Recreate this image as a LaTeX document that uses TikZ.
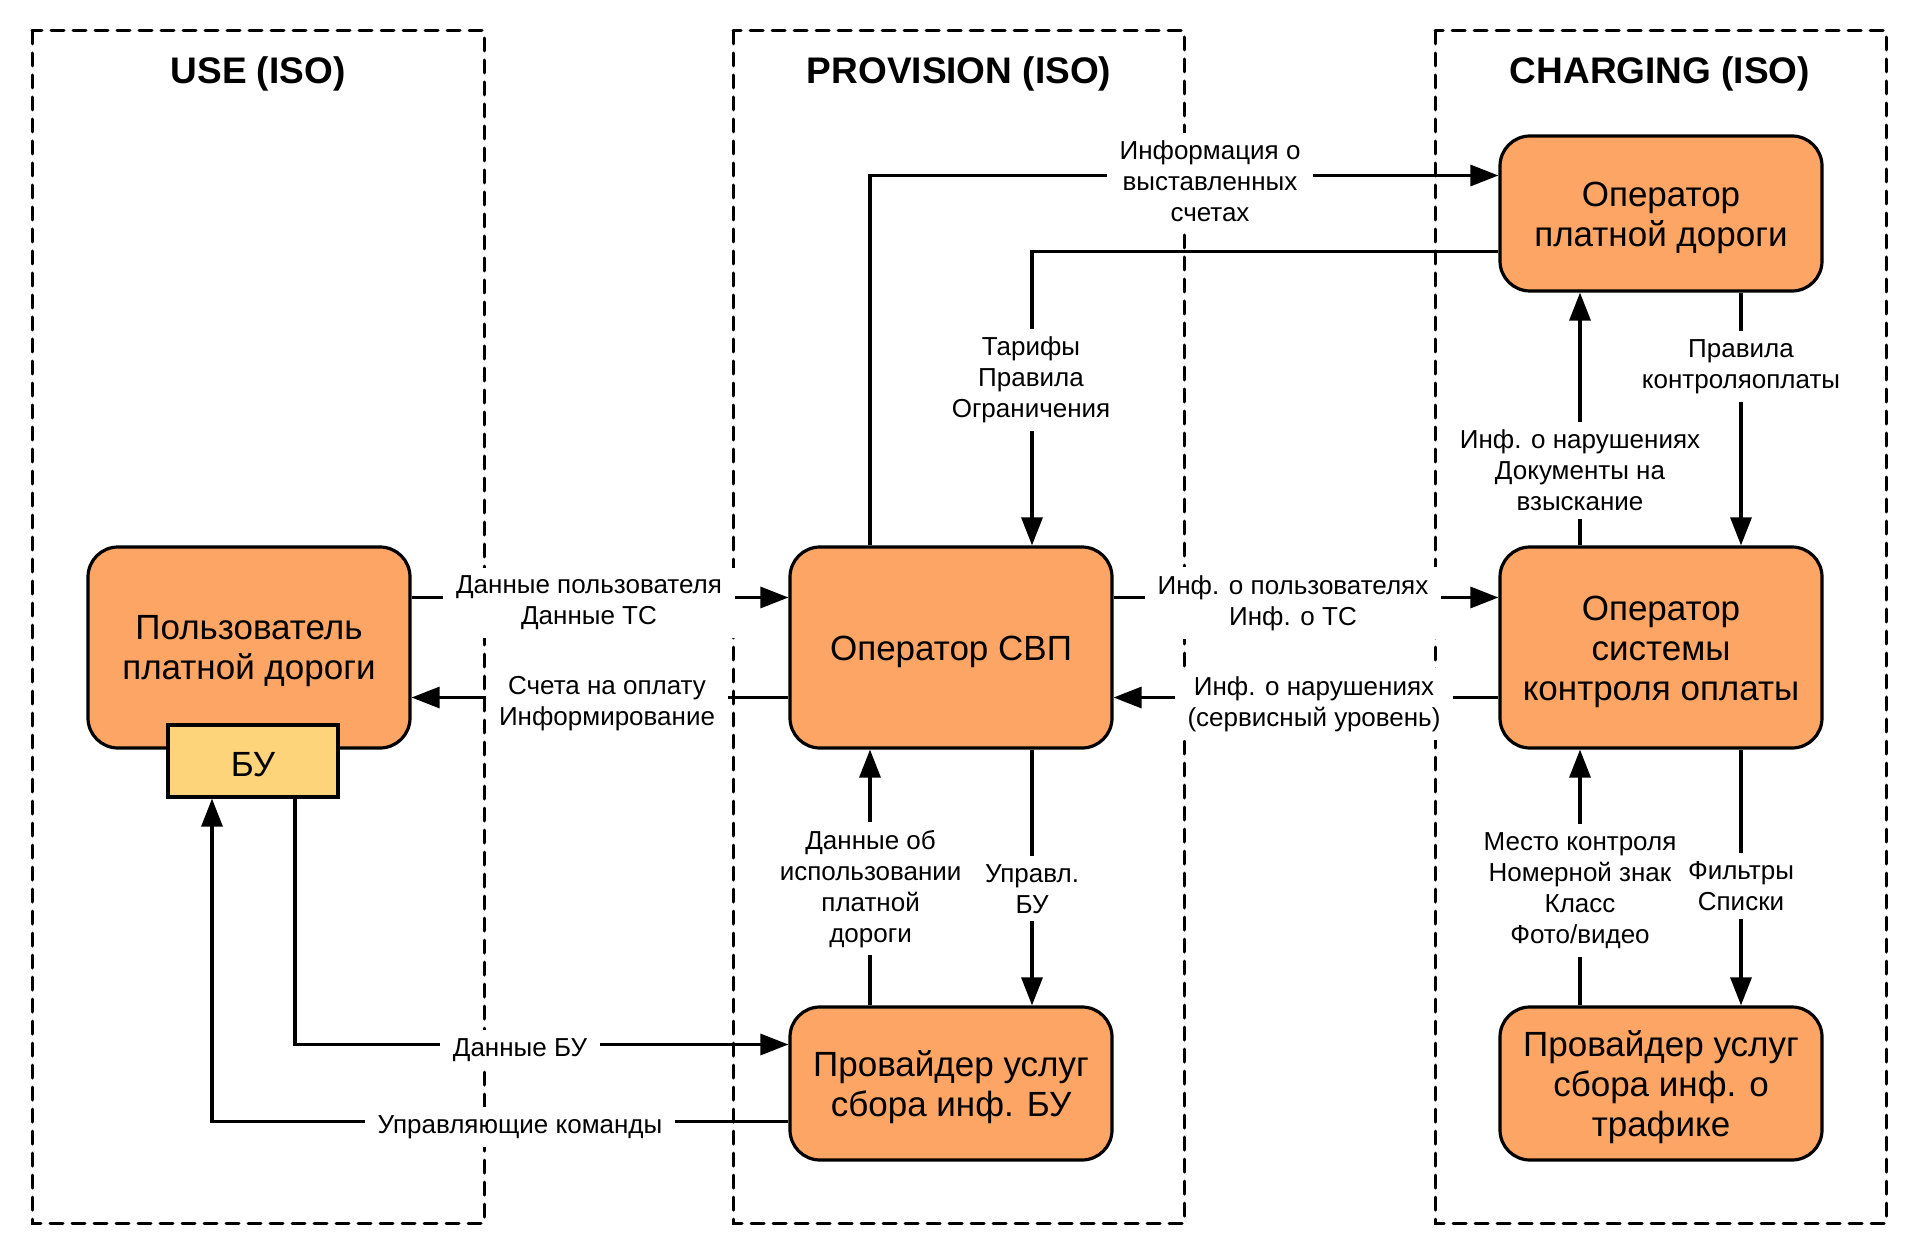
\documentclass[tikz,border=0pt]{standalone}
\usepackage{fontspec}
\setmainfont{Liberation Sans}
\usetikzlibrary{arrows.meta}
\definecolor{boxorange}{RGB}{252,165,100}
\definecolor{buyellow}{RGB}{254,212,122}
\newcommand\ndfont{\fontsize{35}{40}\selectfont}
\newcommand\lbfont{\fontsize{26}{31}\selectfont}
\newcommand\ttlfont{\fontsize{37}{44}\selectfont\bfseries}
\begin{document}
\begin{tikzpicture}[x=1pt,y=-1pt,
  zone/.style={draw=black, line width=3pt, line cap=round, dash pattern=on 13pt off 9pt},
  title/.style={font=\ttlfont, inner sep=0pt},
  box/.style={draw=black, line width=3.2pt, rounded corners=30pt, fill=boxorange,
              minimum width=322pt, inner sep=0pt},
  boxtext/.style={align=center, font=\ndfont, inner sep=0pt, yshift=-4pt},
  bubox/.style={draw=black, line width=3.2pt, fill=buyellow, minimum width=170pt,
              minimum height=72pt, inner sep=0pt},
  lbl/.style={fill=white, align=center, font=\lbfont, inner xsep=13pt, inner ysep=8pt},
  conn/.style={line width=3.2pt},
  arr/.style={conn, -{Triangle[length=28pt, width=21pt]}}]
\useasboundingbox (0,0) rectangle (1920,1257);
\fill[white] (0,0) rectangle (1920,1257);
% zones
\draw[zone] (32,31) rectangle (484,1223);
\draw[zone] (733,31) rectangle (1184,1223);
\draw[zone] (1435,31) rectangle (1886,1223);
\node[title] (t1) at (258,74) {USE (ISO)};
\node[title] (t2) at (959,74) {PROVISION (ISO)};
\node[title] (t3) at (1660,74) {CHARGING (ISO)};
% nodes
\node[box, minimum height=201pt] (user) at (249,647.5) {};
\node[boxtext] (user-t) at (user.center) {Пользователь\\платной дороги};
\node[bubox] (bu) at (253,761) {};
\node[boxtext] (bu-t) at (bu.center) {БУ};
\node[box, minimum height=201pt] (svp) at (951,647.5) {};
\node[boxtext] (svp-t) at (svp.center) {Оператор СВП};
\node[box, minimum height=153pt] (prbu) at (951,1083.5) {};
\node[boxtext] (prbu-t) at (prbu.center) {Провайдер услуг\\сбора инф. БУ};
\node[box, minimum height=155pt] (opd) at (1661,213.5) {};
\node[boxtext] (opd-t) at (opd.center) {Оператор\\платной дороги};
\node[box, minimum height=201pt] (osko) at (1661,647.5) {};
\node[boxtext] (osko-t) at (osko.center) {Оператор\\системы\\контроля оплаты};
\node[box, minimum height=153pt] (prtr) at (1661,1083.5) {};
\node[boxtext] (prtr-t) at (prtr.center) {Провайдер услуг\\сбора инф. о\\трафике};
% connectors
\draw[arr] ([yshift=50pt]user.east) -- ([yshift=50pt]svp.west);
\draw[arr] ([yshift=-50pt]svp.west) -- ([yshift=-50pt]user.east);
\draw[arr] ([xshift=-81pt]svp.north) |- ([yshift=38pt]opd.west);
\draw[arr] ([yshift=-38pt]opd.west) -| ([xshift=81pt]svp.north);
\draw[arr] ([yshift=50pt]svp.east) -- ([yshift=50pt]osko.west);
\draw[arr] ([yshift=-50pt]osko.west) -- ([yshift=-50pt]svp.east);
\draw[arr] ([xshift=-81pt]osko.north) -- ([xshift=-81pt]opd.south);
\draw[arr] ([xshift=80pt]opd.south) -- ([xshift=80pt]osko.north);
\draw[arr] ([xshift=-81pt]prtr.north) -- ([xshift=-81pt]osko.south);
\draw[arr] ([xshift=80pt]osko.south) -- ([xshift=80pt]prtr.north);
\draw[arr] ([xshift=-81pt]prbu.north) -- ([xshift=-81pt]svp.south);
\draw[arr] ([xshift=81pt]svp.south) -- ([xshift=81pt]prbu.north);
\draw[arr] ([xshift=42pt]bu.south) |- ([yshift=39pt]prbu.west);
\draw[arr] ([yshift=-38pt]prbu.west) -| ([xshift=-41pt]bu.south);
% labels
\node[lbl] (l1) at (589,603) {Данные пользователя\\Данные ТС};
\node[lbl] (l2) at (607,704) {Счета на оплату\\Информирование};
\node[lbl] (l3) at (1210,181.5) {Информация о\\выставленных\\счетах};
\node[lbl] (l4) at (1031,380) {Тарифы\\Правила\\Ограничения};
\node[lbl] (l5) at (1293,603) {Инф. о пользователях\\Инф. о ТС};
\node[lbl] (l6) at (1314,704) {Инф. о нарушениях\\(сервисный уровень)};
\node[lbl] (l7) at (1580,470.5) {Инф. о нарушениях\\Документы на\\взыскание};
\node[lbl] (l8) at (1741,366.5) {Правила\\контроляоплаты};
\node[lbl] (l9) at (1580,890.5) {Место контроля\\Номерной знак\\Класс\\Фото/видео};
\node[lbl] (l10) at (1741,886) {Фильтры\\Списки};
\node[lbl] (l11) at (870.6,888.7) {Данные об\\использовании\\платной\\дороги};
\node[lbl] (l12) at (1032,888.7) {Управл.\\БУ};
\node[lbl] (l13) at (520,1049.7) {Данные БУ};
\node[lbl] (l14) at (520,1127) {Управляющие команды};
\end{tikzpicture}
\end{document}
